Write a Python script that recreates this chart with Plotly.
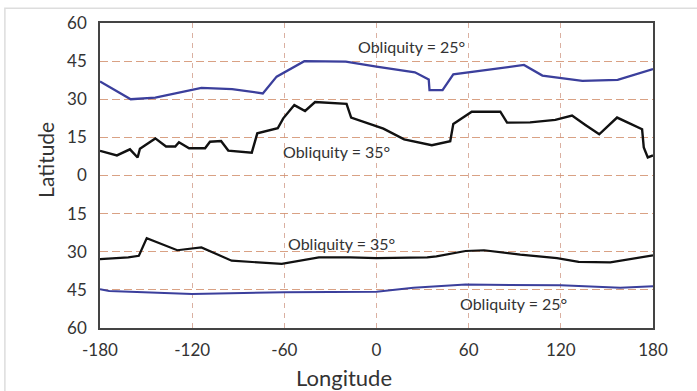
import plotly.graph_objects as go

# Contour positions (longitude, latitude) for each obliquity case
north_25_lon = [-180, -160, -144, -114, -94, -74, -65, -47, -20, 0, 25, 34, 34.5, 43, 50, 96, 108, 134, 157, 180]
north_25_lat = [37, 30, 30.6, 34.5, 34, 32.3, 38.9, 45, 44.8, 42.8, 40.6, 37.8, 33.6, 33.6, 39.8, 43.5, 39.3, 37.2, 37.6, 41.9]

north_35_lon = [-180, -169, -160.5, -155.5, -154, -144, -137, -131, -128.6, -122, -111.6, -108.4, -101.2,
                -96.5, -81.2, -77.6, -64.3, -60.7, -53.5, -46.5, -40, -19.5, -16.5, 4.5, 18, 36, 48, 50,
                62, 80.6, 85, 100, 116.4, 127.3, 136, 145, 156.6, 172.9, 174, 176.6, 180]
north_35_lat = [9.7, 7.9, 10.3, 7.1, 10.5, 14.6, 11.4, 11.4, 13.1, 10.7, 10.7, 13.3, 13.6,
                9.8, 9.0, 16.6, 18.6, 22.5, 27.7, 25.4, 28.9, 28.2, 22.8, 18.4, 14.2, 11.9, 13.5, 20.3,
                25.1, 25.1, 20.8, 20.9, 21.9, 23.6, 19.9, 16.2, 22.8, 18.2, 11, 7.1, 7.9]

south_35_lon = [-180, -161.6, -154.7, -149.6, -129.7, -114, -94.3, -61.7, -37.5, -17, 0, 33, 39, 50, 58, 70,
                93.6, 117.5, 131.6, 152.2, 180]
south_35_lat = [-32.9, -32.2, -31.6, -24.7, -29.4, -28.3, -33.5, -34.8, -32.2, -32.2, -32.5, -32.2, -31.8,
                -30.5, -29.7, -29.4, -31.1, -32.5, -34, -34.2, -31.4]

south_25_lon = [-180, -174, -120, -60, 0, 24, 58, 120, 158.7, 180]
south_25_lat = [-44.7, -45.4, -46.6, -45.9, -45.7, -44.2, -42.9, -43.2, -44.2, -43.6]

lat_ticks = [-60, -45, -30, -15, 0, 15, 30, 45, 60]
lat_labels = ["60", "45", "30", "15", "0", "15", "30", "45", "60"]
lon_ticks = [-180, -120, -60, 0, 60, 120, 180]
lon_labels = ["-180", "-120", "-60", "0", "60", "120", "180"]

labels = [
    ("Obliquity = 25°", 22.5, 50.6),
    ("Obliquity = 35°", -26, 9.4),
    ("Obliquity = 35°", -23, -26.6),
    ("Obliquity = 25°", 89, -50.4),
]

BLUE = "#3b3f9c"
BLACK = "#111111"
FONT = "Lato"
TEXT = "#333333"

fig = go.Figure()
for lon, lat, color, width in [
    (north_25_lon, north_25_lat, BLUE, 2.3),
    (north_35_lon, north_35_lat, BLACK, 2.4),
    (south_35_lon, south_35_lat, BLACK, 2.2),
    (south_25_lon, south_25_lat, BLUE, 2.0),
]:
    fig.add_trace(go.Scatter(x=lon, y=lat, mode="lines",
                             line=dict(color=color, width=width), showlegend=False,
                             hoverinfo="skip"))

for text, x, y in labels:
    fig.add_annotation(x=x, y=y, text=text, showarrow=False,
                       font=dict(family=FONT, size=16, color=TEXT))

# axis titles
fig.add_annotation(xref="paper", yref="paper", x=0.441, y=-0.162, text="Longitude",
                   showarrow=False, xanchor="center", yanchor="middle",
                   font=dict(family=FONT, size=22, color=TEXT))
fig.add_annotation(xref="paper", yref="paper", x=-0.099, y=0.552, text="Latitude",
                   showarrow=False, textangle=-90, xanchor="center", yanchor="middle",
                   font=dict(family=FONT, size=21, color=TEXT))

# light frame around the figure
fig.add_shape(type="rect", xref="paper", yref="paper",
              x0=-0.172, x1=1.5, y0=-0.5, y1=1.0487,
              line=dict(color="#dddddd", width=1.5), layer="below")

fig.update_xaxes(range=[-180, 180], tickvals=lon_ticks, ticktext=lon_labels,
                 showgrid=True, gridcolor="rgba(205,150,130,0.75)", griddash="5px,5px", gridwidth=1,
                 zeroline=False, showline=True, linecolor="#444", linewidth=1.5, mirror=True,
                 ticks="outside", ticklen=6, tickcolor="rgba(0,0,0,0)",
                 tickfont=dict(family=FONT, size=17, color=TEXT))
fig.update_yaxes(range=[-60, 60], tickvals=lat_ticks, ticktext=lat_labels,
                 showgrid=True, gridcolor="rgba(210,145,110,0.85)", griddash="8px,4px", gridwidth=1.2,
                 zeroline=False, showline=True, linecolor="#444", linewidth=1.5, mirror=True,
                 ticks="outside", ticklen=8, tickcolor="rgba(0,0,0,0)",
                 tickfont=dict(family=FONT, size=17, color=TEXT))

fig.update_layout(width=697, height=391, paper_bgcolor="white", plot_bgcolor="white",
                  margin=dict(l=100, r=44, t=20, b=63))

fig.write_html("out.html")
